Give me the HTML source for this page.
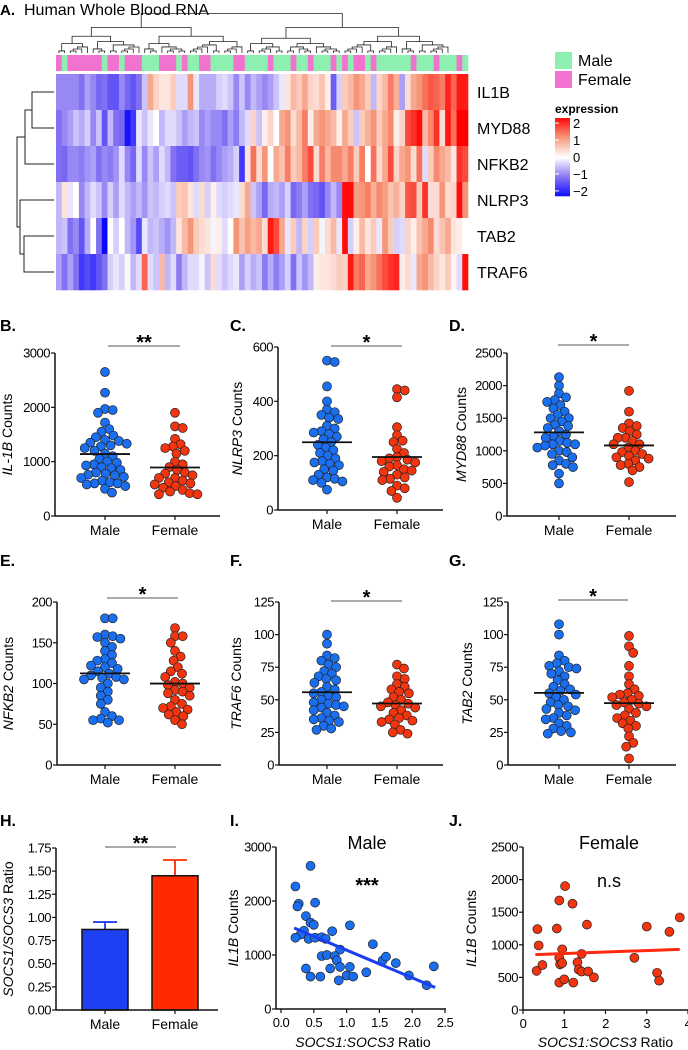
<!DOCTYPE html>
<html><head><meta charset="utf-8"><style>
html,body{margin:0;padding:0;background:#fff;}
svg{display:block;font-family:"Liberation Sans",Arial,sans-serif;}
</style></head><body>
<svg id="fig" width="688" height="1050" viewBox="0 0 688 1050" xmlns="http://www.w3.org/2000/svg">
<text x="0" y="15" font-size="15" font-weight="bold">A.</text>
<text x="24" y="15" font-size="16">Human Whole Blood RNA</text>
<rect x="555" y="52" width="17" height="17" fill="#8ef0b0"/>
<text x="578" y="66" font-size="16">Male</text>
<rect x="555" y="71" width="17" height="17" fill="#f272d0"/>
<text x="578" y="85" font-size="16">Female</text>
<text x="555" y="113" font-size="12" font-weight="bold">expression</text>
<g id="heat"></g>
<g id="plots"></g>
</svg>
<script>
// ---------- DATA ----------
const genes = ["IL1B","MYD88","NFKB2","NLRP3","TAB2","TRAF6"];
const sexes = "PGPPPPPPGPPGPPPGGGPPPGPGGPPGGGGPPGGGGPGGGPGGPGGGPGPGPPGPGGGGGGPGGGPGGGPG";
const hIL1B = [-1,-1,-1,-1,-1.2,-0.8,-1,-1.3,-1.2,-1.5,-1.5,-1,-1.3,-1.5,-1.2,-0.5,1,0.5,0.3,0.3,0.6,-0.3,-0.3,1.2,-0.2,-0.7,-0.7,-0.7,-0.4,-0.3,-0.5,-1,-0.5,-1,-0.6,-0.8,-1,-0.8,-0.5,-0.2,0.3,0.8,0.6,1,0.5,0.4,0.7,0.2,-1.4,-0.4,0.6,0.8,1.2,1,0.6,-0.6,0.5,0.8,1.4,0.9,-0.8,0.4,1,1.2,1.5,1.7,1.6,1.4,2.1,1.6,2.2,2.2];
const hMYD88 = [-1.2,-1,-0.8,-0.5,-0.7,-0.4,-1,-0.5,-1.5,-0.6,-1.2,-1.3,-2.2,-1.8,-0.2,-0.5,-0.2,0,-0.6,-0.3,-0.3,-0.5,-0.8,-0.6,-0.5,-1,-0.8,-1,-1,-1.2,-0.8,-1.1,-0.6,-0.3,0.5,-0.5,0.2,0.5,0,1,1.2,0.4,0.8,1.4,0.2,1,1.2,1,0.8,0.2,1,0.6,-0.5,0.6,0.9,1.2,0.6,1,1.3,0.2,0.5,1.8,2,2.3,0.8,1.3,2,0.4,2.2,1.5,2.4,2.4];
const hNFKB2 = [-1.2,-1.3,-1,-1,-1.1,-0.9,-0.8,-1.2,-1,-1.1,-0.9,-0.3,-1,-1.3,-0.3,-1,-0.5,-0.8,-0.3,-0.6,-1.2,-1.4,-1.4,-1.5,-1.2,-1,-0.9,-1.2,-1,-0.8,-0.7,-0.4,-1.8,0.3,1.5,0.4,1.2,0,1,0.7,1.4,0.6,0.8,1.4,1.8,0.4,1.4,0.8,1.3,1.3,1,1.4,0.6,1.4,0,1.5,0.4,1,1.8,0.5,1,1.2,0.4,1.5,-0.3,0.6,1.3,1,0.8,0.3,2,1.8];
const hNLRP3 = [-0.6,0.3,-0.2,0,-1,-0.6,-0.3,-0.5,-1,-0.4,-0.8,-0.3,-0.6,-0.8,-0.6,-0.9,-0.5,-0.6,-0.4,-0.3,-0.5,0.6,0.7,0.3,-0.3,0.4,-0.4,0.2,-0.3,-0.4,-0.3,-0.2,0.4,1,-0.5,-0.8,-1.3,-0.7,-0.6,-0.8,-0.4,-1.3,-1.1,-0.8,-1.2,-1.3,-1.5,-1,-0.6,-1,2.3,2.3,1.1,1.2,1.4,0.9,1.3,1.1,0.7,0.9,0.5,1.7,1.8,0.6,2,0.4,0.4,1.2,0.4,0.5,2.3,1.2];
const hTAB2 = [-0.6,-0.5,-1.2,-1,-1.5,-0.7,0,-1.2,-2.3,0,-0.4,0,-0.6,-0.9,-1.6,-0.2,-0.6,-0.5,-0.7,-0.9,-0.6,0.3,0.8,1.2,0.6,0.4,0.3,-0.1,0.2,-0.3,0,1.2,0.7,1.1,0.8,1,0.4,2.2,1.8,1,-0.2,0.6,-0.6,0.5,-0.4,0.6,-0.1,0.4,0.8,-0.2,2.3,-0.4,0.2,0.8,0.3,0.6,-0.2,1.2,0.6,-0.4,-0.3,0.5,0.2,0.7,1,1.3,0.4,0.7,1,0.3,0.2,0];
const hTRAF6 = [-0.8,-1.2,-0.8,-1.2,-1.8,-1.6,-1.8,-1.5,-1.2,-0.4,-0.2,-0.4,0.1,-0.6,-0.3,1.6,-0.3,-0.5,0.8,-0.6,-0.3,-1.1,-0.6,-0.3,-0.3,-0.1,-0.5,0.4,-0.3,-0.5,-0.3,-0.2,-0.8,-0.4,-0.7,-0.5,-1.1,-0.7,-1.1,-0.8,-0.4,-1.2,-0.5,-0.9,-0.6,0.2,0.3,0.3,0.4,0.6,0.5,2.2,1.4,1.6,1,1.2,1.5,1.8,2,2.1,0.2,0.4,-0.2,1,1.2,0.8,0.5,0.3,0.6,0.1,-0.3,2.3];

const bMale = [2650,2270,1970,1950,1900,1720,1600,1550,1480,1450,1400,1380,1350,1330,1300,1280,1250,1200,1150,1100,1050,1000,980,950,930,900,880,850,800,780,760,750,720,700,650,620,600,600,580,550,500,430];
const bFemale = [1900,1650,1620,1420,1320,1280,1250,1200,1150,1000,950,900,850,800,780,750,700,700,650,620,600,580,550,520,480,450,420,400,400];
const cMale = [545,550,455,400,370,360,350,340,335,310,300,290,285,280,270,250,240,230,220,210,200,190,175,170,165,150,145,130,120,115,110,105,100,75,260,180];
const cFemale = [445,440,415,305,275,255,250,225,210,195,190,185,180,175,165,160,150,145,140,130,120,115,110,90,80,70,45];
const dMale = [2130,2000,1880,1820,1780,1750,1700,1650,1600,1550,1500,1500,1450,1400,1380,1350,1300,1250,1200,1150,1100,1100,1080,1050,1000,980,950,900,850,800,780,750,650,500,1220,1120];
const dFemale = [1920,1600,1420,1380,1350,1300,1250,1200,1200,1150,1100,1100,1050,1000,980,950,920,900,880,850,800,780,750,700,520];
const eMale = [180,180,158,157,160,155,150,145,140,135,130,128,125,122,120,118,115,112,110,108,107,105,105,100,95,90,85,80,75,65,60,57,55,55,52];
const eFemale = [168,158,158,150,140,133,128,120,115,112,108,102,100,98,95,92,90,88,85,80,75,72,70,68,65,62,60,55,50];
const fMale = [100,93,84,82,80,77,75,72,70,68,66,65,63,60,58,56,55,53,52,50,48,47,46,45,44,42,40,38,36,35,34,33,30,28,27];
const fFemale = [77,74,68,66,62,60,58,56,55,52,50,48,47,46,45,44,42,40,38,36,35,34,33,31,27,25,24];
const gMale = [108,100,84,80,78,76,75,74,72,70,68,65,62,60,58,57,55,54,52,50,48,46,45,43,42,40,38,36,35,32,30,28,26,25,24];
const gFemale = [99,91,86,76,68,62,58,55,54,53,52,50,48,47,46,45,43,40,38,36,34,32,30,28,22,17,14,5];

const hCats = ["Male","Female"];
const hMeans = [0.87,1.45];
const hErr = [0.95,1.62];
const hTicks = [0,0.25,0.5,0.75,1,1.25,1.5,1.75];

const iX = [0.45,0.22,0.27,0.52,0.25,0.38,0.45,0.5,1.05,0.35,0.78,0.3,0.22,0.42,0.52,0.62,0.68,0.9,1.4,0.62,0.7,0.82,0.85,1.55,1.6,1.75,0.38,0.6,0.45,0.75,0.9,1.05,1.0,1.1,0.88,1.3,1.95,2.22,2.33];
const iY = [2650,2270,1950,1970,1900,1720,1600,1560,1550,1450,1440,1380,1320,1300,1320,1330,1300,1100,1200,980,1000,980,900,900,970,850,750,600,600,750,780,780,620,600,530,680,620,440,790];
const iFit = [1602,-512];
const iFitRange = [0.2,2.35];
const jX = [0.35,0.38,0.33,0.47,0.88,1.02,1.2,0.82,0.95,0.88,0.9,0.95,0.88,1.0,1.22,1.32,1.35,1.42,1.42,1.55,1.58,1.72,2.7,3.0,3.25,3.3,3.55,3.8];
const jY = [1240,990,600,690,1680,1900,1630,1250,930,800,700,720,420,470,420,730,620,860,590,1310,590,500,800,1280,570,450,1200,1420];
const jFit = [843,23];
const jFitRange = [0.3,3.8];

// ---------- HELPERS ----------
const NS='http://www.w3.org/2000/svg';
const svg=document.getElementById('fig');
function mk(tag,attrs,parent){const e=document.createElementNS(NS,tag);for(const k in attrs)e.setAttribute(k,attrs[k]);(parent||svg).appendChild(e);return e;}
function tx(s,attrs,parent){const e=mk('text',attrs,parent);e.textContent=s;return e;}
const TF=13, CF=14, YF=14;

// ---------- HEATMAP ----------
const heat=document.getElementById('heat');
const stops=[[-2.4,[0,0,255]],[-1.2,[130,112,242]],[0,[255,255,255]],[1.2,[246,150,120]],[2.4,[255,0,0]]];
function col(v){v=Math.max(-2.4,Math.min(2.4,v));for(let i=0;i<stops.length-1;i++){const a=stops[i],b=stops[i+1];if(v<=b[0]){const t=(v-a[0])/(b[0]-a[0]);const c=a[1].map((x,j)=>Math.round(x+(b[1][j]-x)*t));return 'rgb('+c.join(',')+')';}}return 'rgb(255,0,0)';}
const hx0=56,hx1=468,hy0=74,rowH=36;
const rows=[hIL1B,hMYD88,hNFKB2,hNLRP3,hTAB2,hTRAF6];
const ncol=sexes.length, cw=(hx1-hx0)/ncol;
for(let c=0;c<ncol;c++){
  const r=mk('rect',{x:hx0+c*cw,y:55,width:cw+0.3,height:16,fill:sexes[c]==='P'?'#f272d0':'#8ef0b0'},heat);
  
  
}
rows.forEach((arr,ri)=>{
  for(let c=0;c<ncol;c++){
    const v=arr[c]===undefined?0:arr[c];
    const r=mk('rect',{x:hx0+c*cw,y:hy0+ri*rowH,width:cw+0.3,height:rowH+0.3,fill:col(v)},heat);
    
    
  }
  const t=tx(genes[ri],{x:477,y:hy0+ri*rowH+rowH/2+6,'font-size':16},heat);
  
  
});
for(let i=0;i<60;i++){
  const v=2.3-i*(4.6/60);
  const r=mk('rect',{x:555,y:118+i*78/60,width:15,height:78/60+0.3,fill:col(v)},heat);
  
  
}
[2,1,0,-1,-2].forEach(v=>{
  const y=118+(2.3-v)/4.6*78;
  const l=mk('line',{x1:555,x2:559,y1:y,y2:y,stroke:'#fff','stroke-width':1},heat);
  
  
  const t=tx(v<0?'\u2212'+(-v):String(v),{x:573,y:y+5,'font-size':13},heat);
  
  
});
const rc=i=>hy0+i*rowH+rowH/2;
const dpath='M54,'+rc(0)+'H32V'+rc(1)+'H54 M32,'+((rc(0)+rc(1))/2)+'H25V'+rc(2)+'H54 M54,'+rc(4)+'H24V'+rc(5)+'H54 M24,'+((rc(4)+rc(5))/2)+'H20V'+rc(3)+'H54 M25,'+((((rc(0)+rc(1))/2)+rc(2))/2)+'H17V'+((((rc(4)+rc(5))/2)+rc(3))/2)+'H20';
const rd=mk('path',{d:dpath,fill:'none',stroke:'#222','stroke-width':1},heat);


let cd='';
function tree(a,b,h){
  if(b-a<=1){return [hx0+(a+0.5)*cw,53];}
  const m=Math.floor((a+b)/2+((a*7+b*3)%3-1));
  const mid=Math.max(a+1,Math.min(b-1,m));
  const L=tree(a,mid,h*0.62),R=tree(mid,b,h*0.62);
  const y=Math.min(L[1],R[1])-Math.max(2,h);
  cd+='M'+L[0]+','+L[1]+'V'+y+'H'+R[0]+'V'+R[1]+' ';
  return [(L[0]+R[0])/2,y];
}
tree(0,ncol-3,14);
const cdp=mk('path',{d:cd,fill:'none',stroke:'#222','stroke-width':0.8},heat);



// ---------- DOT PLOTS ----------
const plots=document.getElementById('plots');
const R=4.5;
function swarm(vals,cx,ys,fill,g){
  const sorted=vals.slice().sort((a,b)=>b-a);const placed=[];
  sorted.forEach(v=>{
    const y=ys(v);let dx=0;
    for(let k=0;k<200;k++){
      const cand=(k%2?1:-1)*Math.ceil(k/2)*0.7;
      if(placed.every(p=>Math.hypot(p[0]-(cx+cand),p[1]-y)>=7.6)){dx=cand;break;}
    }
    placed.push([cx+dx,y]);
    const c=mk('circle',{cx:cx+dx,cy:y,r:R,fill:fill,stroke:'#222','stroke-width':0.7},g);
    
    
  });
}
function axisY(p,g){
  const ys=v=>p.zero-v/p.max*(p.zero-p.top);
  const a=mk('line',{x1:p.ax,x2:p.ax,y1:p.top,y2:p.zero,stroke:'#111','stroke-width':1.5},g);
  
  
  p.ticks.forEach(t=>{
    const y=ys(t);
    const l=mk('line',{x1:p.ax-4,x2:p.ax,y1:y,y2:y,stroke:'#111','stroke-width':1.2},g);
    
    
    const s=tx(p.fmt?p.fmt(t):String(t),{x:p.ax-5,y:y+4.5,'font-size':TF,'text-anchor':'end','letter-spacing':'-0.5'},g);
    
    
  });
  return ys;
}
function ylab(p,g,gene,rest){
  const t=mk('text',{transform:'translate('+p.lx+','+((p.top+p.zero)/2)+') rotate(-90)','font-size':YF,'text-anchor':'middle'},g);
  
  
  const a=mk('tspan',{'font-style':'italic'},t);a.textContent=gene;
  const b=mk('tspan',{},t);b.textContent=rest;
}
function letter(s,x,y,g){const t=tx(s,{x:x,y:y,'font-size':16,'font-weight':'bold'},g);}
function sig(p,g){
  const l=mk('line',{x1:p.sx1,x2:p.sx2,y1:p.sy,y2:p.sy,stroke:'#555','stroke-width':1},g);
  
  
  const t=tx(p.stars,{x:(p.sx1+p.sx2)/2,y:p.sy+3,'font-size':20,'font-weight':'bold','text-anchor':'middle'},g);
  
  
}
function xcats(p,g){
  const a=mk('line',{x1:p.ax,x2:p.xend,y1:p.zero,y2:p.zero,stroke:'#111','stroke-width':1.5},g);
  
  
  hCats.forEach((c,i)=>{
    const x=p.cats[i];
    const l=mk('line',{x1:x,x2:x,y1:p.zero,y2:p.zero+4,stroke:'#111','stroke-width':1.2},g);
    
    
    const t=tx(c,{x:x,y:p.zero+19,'font-size':CF,'text-anchor':'middle'},g);
    
    
  });
}
const mean=a=>a.reduce((s,v)=>s+v,0)/a.length;
function dotPanel(p){
  const g=mk('g',{},plots);
  
  
  letter(p.letter,p.lxl,p.lyl,g);
  const ys=axisY(p,g);
  xcats(p,g);
  ylab(p,g,p.gene,' Counts');
  sig(p,g);
  swarm(p.m,p.cats[0],ys,'#1a6ef0',g);
  swarm(p.f,p.cats[1],ys,'#f2350f',g);
  [p.m,p.f].forEach((arr,i)=>{
    const y=ys(mean(arr));
    const l=mk('line',{x1:p.cats[i]-25,x2:p.cats[i]+25,y1:y,y2:y,stroke:'#111','stroke-width':1.8},g);
    
    
  });
}
dotPanel({name:'panel-b-il1b',letter:'B.',lxl:0,lyl:331,ax:55,top:353,zero:516,xend:220,max:3000,ticks:[0,1000,2000,3000],cats:[105,175],m:bMale,f:bFemale,gene:'IL-1B',lx:12,sx1:108,sx2:180,sy:346,stars:'**'});
dotPanel({name:'panel-c-nlrp3',letter:'C.',lxl:230,lyl:331,ax:278,top:347,zero:510,xend:443,max:600,ticks:[0,200,400,600],cats:[327,397],m:cMale,f:cFemale,gene:'NLRP3',lx:242,sx1:331,sx2:402,sy:346,stars:'*'});
dotPanel({name:'panel-d-myd88',letter:'D.',lxl:449,lyl:331,ax:507,top:353,zero:516,xend:676,max:2500,ticks:[0,500,1000,1500,2000,2500],cats:[559,629],m:dMale,f:dFemale,gene:'MYD88',lx:466,sx1:558,sx2:629,sy:345,stars:'*'});
dotPanel({name:'panel-e-nfkb2',letter:'E.',lxl:0,lyl:566,ax:57,top:602,zero:765,xend:221,max:200,ticks:[0,50,100,150,200],cats:[105,175],m:eMale,f:eFemale,gene:'NFKB2',lx:13,sx1:107,sx2:178,sy:598,stars:'*'});
dotPanel({name:'panel-f-traf6',letter:'F.',lxl:230,lyl:566,ax:279,top:602,zero:765,xend:443,max:125,ticks:[0,25,50,75,100,125],cats:[327,397],m:fMale,f:fFemale,gene:'TRAF6',lx:241,sx1:331,sx2:402,sy:601,stars:'*'});
dotPanel({name:'panel-g-tab2',letter:'G.',lxl:449,lyl:566,ax:508,top:602,zero:765,xend:676,max:125,ticks:[0,25,50,75,100,125],cats:[559,629],m:gMale,f:gFemale,gene:'TAB2',lx:472,sx1:558,sx2:628,sy:600,stars:'*'});

// ---------- H BAR ----------
(function(){
  const p={ax:56,top:848,zero:1010,xend:218,max:1.75,ticks:hTicks,cats:[105,175],lx:13,sx1:105,sx2:176,sy:847,stars:'**',fmt:v=>v.toFixed(2)};
  const g=mk('g',{},plots);
  
  
  letter('H.',0,826,g);
  const ys=axisY(p,g);
  const colors=['#1f3ff2','#ff2a00'];
  hMeans.forEach((v,i)=>{
    const x=p.cats[i];
    const e=mk('path',{d:'M'+x+','+ys(v)+'V'+ys(hErr[i])+'M'+(x-12)+','+ys(hErr[i])+'H'+(x+12),stroke:colors[i],'stroke-width':1.8,fill:'none'},g);
    
    
    const r=mk('rect',{x:x-23,y:ys(v),width:46,height:p.zero-ys(v),fill:colors[i],stroke:'#111','stroke-width':1.5},g);
    
    
  });
  xcats(p,g);
  ylab(p,g,'SOCS1/SOCS3',' Ratio');
  sig(p,g);
})();

// ---------- SCATTERS ----------
function scatter(p){
  const g=mk('g',{},plots);
  
  
  letter(p.letter,p.lxl,826,g);
  const ys=axisY(p,g);
  const xs=v=>p.x0+(v-p.xmin)/(p.xmax-p.xmin)*(p.x1-p.x0);
  const a=mk('line',{x1:p.ax,x2:p.xend,y1:p.zero,y2:p.zero,stroke:'#111','stroke-width':1.5},g);
  
  
  p.xt.forEach(t=>{
    const x=xs(t);
    const l=mk('line',{x1:x,x2:x,y1:p.zero,y2:p.zero+4,stroke:'#111','stroke-width':1.2},g);
    
    
    const s=tx(p.xfmt(t),{x:x,y:p.zero+18,'font-size':TF,'text-anchor':'middle','letter-spacing':'-0.5'},g);
    
    
  });
  const xt=mk('text',{x:(p.x0+p.x1)/2,y:1047,'font-size':YF,'text-anchor':'middle'},g);
  
  
  const ta=mk('tspan',{'font-style':'italic'},xt);ta.textContent='SOCS1:SOCS3';
  const tb=mk('tspan',{},xt);tb.textContent=' Ratio';
  ylab(p,g,'IL1B',' Counts');
  const tt=tx(p.title,{x:p.tx,y:849,'font-size':18,'text-anchor':'middle'},g);
  
  
  const st=tx(p.sigt,{x:p.tx,y:p.sigy,'font-size':p.sigfs,'font-weight':p.sigw,'text-anchor':'middle'},g);
  
  
  p.X.forEach((xv,i)=>{
    const c=mk('circle',{cx:xs(xv),cy:ys(p.Y[i]),r:R,fill:p.fill,stroke:'#222','stroke-width':0.7},g);
    
    
  });
  const f=x=>p.fit[0]+p.fit[1]*x;
  const l=mk('line',{x1:xs(p.fr[0]),y1:ys(f(p.fr[0])),x2:xs(p.fr[1]),y2:ys(f(p.fr[1])),stroke:p.line,'stroke-width':3},g);
  
  
}
scatter({name:'panel-i-male-scatter',letter:'I.',lxl:230,ax:276,top:847,zero:1009,max:3000,ticks:[0,1000,2000,3000],xend:446,x0:281,x1:445,xmin:0,xmax:2.5,xt:[0,0.5,1,1.5,2,2.5],xfmt:v=>v.toFixed(1),lx:238,title:'Male',tx:367,sigt:'***',sigy:892,sigfs:20,sigw:'bold',X:iX,Y:iY,fit:iFit,fr:iFitRange,fill:'#1a6ef0',line:'#1a3ff0'});
scatter({name:'panel-j-female-scatter',letter:'J.',lxl:449,ax:523,top:847,zero:1010,max:2500,ticks:[0,500,1000,1500,2000,2500],xend:688,x0:523,x1:688,xmin:0,xmax:4,xt:[0,1,2,3,4],xfmt:v=>String(v),lx:476,title:'Female',tx:609,sigt:'n.s',sigy:887,sigfs:18,sigw:'normal',X:jX,Y:jY,fit:jFit,fr:jFitRange,fill:'#f2350f',line:'#ff2a10'});
</script>
</body></html>
